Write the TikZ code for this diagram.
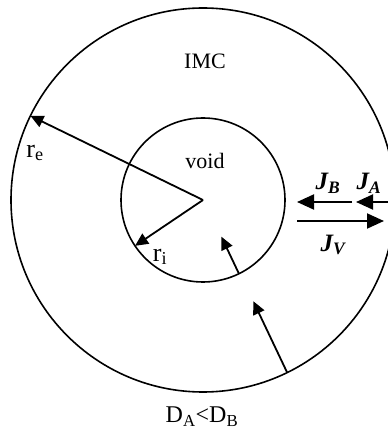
\documentclass[tikz,border=0pt]{standalone}
\usepackage{fontspec}
\setmainfont{Liberation Serif}
\usetikzlibrary{arrows.meta,calc}
\begin{document}
\begin{tikzpicture}[x=1pt,y=1pt,
  ring/.style={circle,draw,line width=1.6pt,inner sep=0pt,outer sep=0pt},
  rarrow/.style={line width=1.8pt,-{Triangle[length=13pt,width=12pt]}},
  jarrow/.style={line width=2pt,-{Triangle[length=17pt,width=15pt]}},
  lbl/.style={font=\fontsize{22}{26}\selectfont,inner sep=0pt},
  rlbl/.style={font=\fontsize{26}{30}\selectfont,inner sep=0pt},
  dlbl/.style={font=\fontsize{24}{28}\selectfont,inner sep=0pt},
  jlbl/.style={font=\fontsize{25}{29}\selectfont\bfseries\itshape,inner sep=0pt}]
\useasboundingbox (0,0) rectangle (388,432);
\clip (0,0) rectangle (388,432);
\coordinate (c) at (203,232);
\node[ring,minimum size=384pt] (outer) at (c) {};
\node[ring,minimum size=164pt] (inner) at (c) {};
\draw[rarrow] (c) -- (outer.154.65);
\draw[rarrow] (c) -- (inner.214.9);
\coordinate (tin) at ($(inner.-64.6)+(115.4:41)$);
\coordinate (tout) at ($(outer.-64.6)+(115.4:79)$);
\draw[rarrow] (inner.-64.6) -- (tin);
\draw[rarrow] (outer.-64.6) -- (tout);
\node[lbl] (imc) at (205,371) {IMC};
\node[lbl] (void) at (205,271) {void};
\node[rlbl] (re) at (35,279) {r\textsubscript{e}};
\node[rlbl] (ri) at (160,175) {r\textsubscript{i}};
\node[dlbl] (d) at (202,15) {D\textsubscript{A}<D\textsubscript{B}};
\coordinate (jbs) at (352,230);
\coordinate (jbe) at (297,230);
\coordinate (jas) at (388,230);
\coordinate (jae) at (356,230);
\coordinate (jvs) at (297,211);
\coordinate (jve) at (384,211);
\draw[jarrow] (jbs) -- (jbe);
\draw[jarrow] (jas) -- (jae);
\draw[jarrow] (jvs) -- (jve);
\node[jlbl] (jb) at (328,249) {J\textsubscript{B}};
\node[jlbl] (ja) at (369,249) {J\textsubscript{A}};
\node[jlbl] (jv) at (333,187) {J\textsubscript{V}};
\end{tikzpicture}
\end{document}
